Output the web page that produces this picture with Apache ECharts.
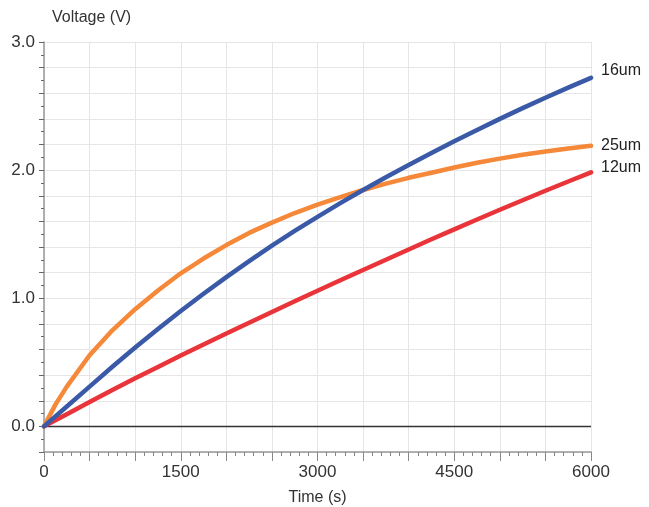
<!DOCTYPE html>
<html>
<head>
<meta charset="utf-8">
<script src="https://cdn.jsdelivr.net/npm/echarts@6/dist/echarts.min.js"></script>
<style>html,body{margin:0;padding:0;background:#fff;}#c{width:649px;height:507px;}</style>
</head>
<body>
<div id="c"></div>
<script>
const times = [0, 125, 250, 500, 750, 1000, 1250, 1500, 1750, 2000, 2250, 2500, 2750, 3000, 3250, 3500, 3750, 4000, 4250, 4500, 4750, 5000, 5250, 5500, 5750, 6000];
const v16um = [0, 0.078, 0.155, 0.31, 0.465, 0.615, 0.76, 0.90, 1.035, 1.165, 1.29, 1.41, 1.525, 1.635, 1.742, 1.845, 1.944, 2.04, 2.134, 2.225, 2.314, 2.40, 2.484, 2.565, 2.644, 2.72];
const v25um = [0, 0.17, 0.31, 0.555, 0.75, 0.915, 1.06, 1.195, 1.31, 1.415, 1.51, 1.59, 1.665, 1.73, 1.79, 1.845, 1.895, 1.94, 1.98, 2.02, 2.057, 2.09, 2.12, 2.145, 2.168, 2.19];
const v12um = [0, 0.048, 0.095, 0.19, 0.283, 0.375, 0.464, 0.553, 0.639, 0.725, 0.809, 0.893, 0.976, 1.058, 1.140, 1.221, 1.301, 1.381, 1.460, 1.538, 1.615, 1.691, 1.765, 1.839, 1.911, 1.982];
const seriesNames = ['16um', '25um', '12um'];
const xLabelValues = [0, 1500, 3000, 4500, 6000];
const yLabelValues = [0, 1, 2, 3];

const FONT = 'Liberation Sans, Arial, sans-serif';
function pairs(ys) { return times.map((t, i) => [t, ys[i]]); }
function mkSeries(name, ys, color, offY) {
  return {
    name: name, type: 'line', data: pairs(ys), smooth: false, showSymbol: false,
    lineStyle: { color: color, width: 4.5, cap: 'round', join: 'round' }, itemStyle: { color: color },
    endLabel: { show: true, formatter: '{a}', color: '#222', fontSize: 16, fontFamily: FONT, distance: 10, offset: [0, offY] },
    z: 3
  };
}
const chart = echarts.init(document.getElementById('c'), null, { renderer: 'canvas' });
const s16 = mkSeries(seriesNames[0], v16um, '#3a5aa8', -7);
const s25 = mkSeries(seriesNames[1], v25um, '#f6883a', 0);
const s12 = mkSeries(seriesNames[2], v12um, '#e9343a', -5);
s12.markLine = {
  silent: true, symbol: 'none', label: { show: false },
  lineStyle: { color: '#333', width: 1.3, type: 'solid' },
  data: [{ yAxis: 0 }], z: 2
};
chart.setOption({
  animation: false,
  backgroundColor: '#fff',
  grid: { left: 44, right: 58, top: 42, bottom: 55, containLabel: false, outerBoundsMode: 'none' },
  xAxis: {
    type: 'value', min: 0, max: 6000, interval: 500,
    name: 'Time (s)', nameLocation: 'middle', nameGap: 38,
    nameTextStyle: { color: '#333', fontSize: 16, fontFamily: FONT },
    axisLine: { show: true, onZero: false, lineStyle: { color: '#999', width: 1.5 } },
    axisTick: { show: true, length: 9, lineStyle: { color: '#888' } },
    minorTick: { show: true, splitNumber: 5, length: 4, lineStyle: { color: '#888' } },
    axisLabel: {
      color: '#333', fontSize: 17, fontFamily: FONT, margin: 12,
      formatter: v => xLabelValues.includes(Math.round(v)) ? String(Math.round(v)) : ''
    },
    splitLine: { show: true, lineStyle: { color: '#e6e6e6', width: 1 } }
  },
  yAxis: {
    type: 'value', min: -0.2, max: 3.0, interval: 0.2,
    name: 'Voltage (V)', nameLocation: 'end', nameGap: 16,
    nameTextStyle: { color: '#333', fontSize: 16, fontFamily: FONT, align: 'left', padding: [0, 0, 0, 8] },
    axisLine: { show: true, lineStyle: { color: '#999', width: 1.5 } },
    axisTick: { show: true, length: 5, lineStyle: { color: '#666' } },
    minorTick: { show: true, splitNumber: 2, length: 3, lineStyle: { color: '#666' } },
    axisLabel: {
      color: '#333', fontSize: 17, fontFamily: FONT, margin: 9,
      formatter: v => {
        const r = Math.round(v);
        return (Math.abs(v - r) < 1e-6 && yLabelValues.includes(r)) ? r.toFixed(1) : '';
      }
    },
    splitLine: { show: true, lineStyle: { color: '#e6e6e6', width: 1 } }
  },
  series: [s12, s25, s16]
});
</script>
</body>
</html>
